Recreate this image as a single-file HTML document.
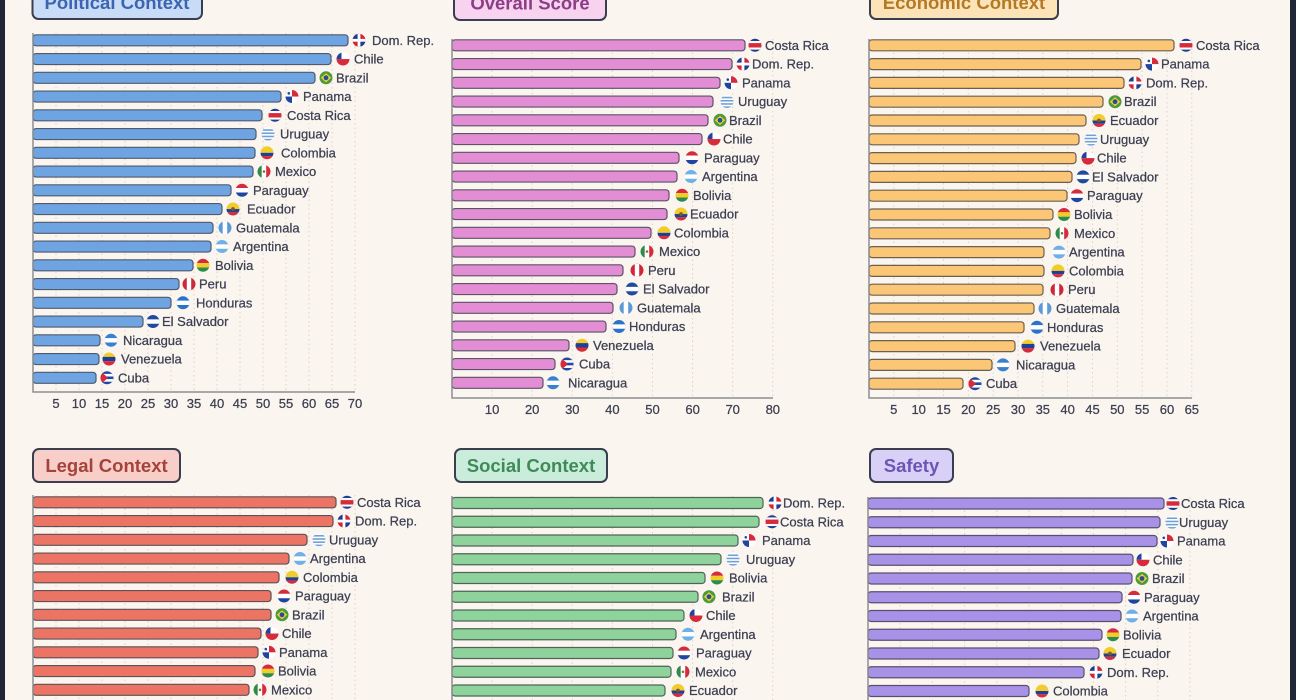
<!DOCTYPE html>
<html><head><meta charset="utf-8">
<style>
html,body{margin:0;padding:0;background:#fbf5ef;}
svg{display:block;}
.l{font:13px "Liberation Sans",sans-serif;fill:#3c3f52;stroke:#3c3f52;stroke-width:0.25;}
.tk{font:13px "Liberation Sans",sans-serif;fill:#3c3f52;stroke:#3c3f52;stroke-width:0.25;text-anchor:middle;}
.ttl{font:bold 18.5px "Liberation Sans",sans-serif;text-anchor:middle;}
.g{stroke:#dcd2c8;stroke-width:1;stroke-dasharray:1.5 3;fill:none;}
.ax{stroke:#8e8e92;stroke-width:1.5;fill:none;}
.b1{fill:#6fa4e2;stroke:#50596e;stroke-width:1.2;}
.b2{fill:#e38dd5;stroke:#5a5466;stroke-width:1.2;}
.b3{fill:#fbc676;stroke:#6a6052;stroke-width:1.2;}
.b4{fill:#ec7465;stroke:#5e5057;stroke-width:1.2;}
.b5{fill:#8fd39c;stroke:#4f6358;stroke-width:1.2;}
.b6{fill:#a892e8;stroke:#55506e;stroke-width:1.2;}
.box{stroke:#3a3e4e;stroke-width:2;}
</style></head>
<body>
<svg width="1296" height="700" viewBox="0 0 1296 700" xmlns="http://www.w3.org/2000/svg">
<defs>
<clipPath id="cc"><circle r="6.5"/></clipPath>
<g id="DO"><g clip-path="url(#cc)"><rect x="-7" y="-7" width="7" height="7" fill="#1e3f8f"/><rect x="0" y="-7" width="7" height="7" fill="#d0263a"/><rect x="-7" y="0" width="7" height="7" fill="#d0263a"/><rect x="0" y="0" width="7" height="7" fill="#1e3f8f"/><rect x="-1.4" y="-7" width="2.8" height="14" fill="#fff"/><rect x="-7" y="-1.4" width="14" height="2.8" fill="#fff"/></g></g>
<g id="CL"><g clip-path="url(#cc)"><rect x="-7" y="-7" width="14" height="7" fill="#fff"/><rect x="-7" y="-7" width="5.5" height="7" fill="#1f45a0"/><rect x="-7" y="0" width="14" height="7" fill="#d52b3a"/></g></g>
<g id="BR"><g clip-path="url(#cc)"><rect x="-7" y="-7" width="14" height="14" fill="#4b9a3c"/><path d="M0,-4.6 L5.2,0 0,4.6 -5.2,0Z" fill="#e8d03a"/><circle r="2.4" fill="#2a4a9a"/></g></g>
<g id="PA"><g clip-path="url(#cc)"><rect x="-7" y="-7" width="14" height="14" fill="#fff"/><rect x="0" y="-7" width="7" height="7" fill="#d52b3a"/><rect x="-7" y="0" width="7" height="7" fill="#1f45a0"/><circle cx="-3.2" cy="-3.2" r="1.3" fill="#1f45a0"/></g></g>
<g id="CR"><g clip-path="url(#cc)"><rect x="-7" y="-7" width="14" height="14" fill="#1f3f8f"/><rect x="-7" y="-4.3" width="14" height="8.6" fill="#fff"/><rect x="-7" y="-2.2" width="14" height="4.4" fill="#d52b3a"/></g></g>
<g id="UY"><g clip-path="url(#cc)"><rect x="-7" y="-7" width="14" height="14" fill="#fff"/><rect x="-7" y="-4.8" width="14" height="1.6" fill="#6fa0d8"/><rect x="-7" y="-1.6" width="14" height="1.6" fill="#6fa0d8"/><rect x="-7" y="1.6" width="14" height="1.6" fill="#6fa0d8"/><rect x="-7" y="4.8" width="14" height="1.6" fill="#6fa0d8"/></g></g>
<g id="CO"><g clip-path="url(#cc)"><rect x="-7" y="-7" width="14" height="7" fill="#f2cc2a"/><rect x="-7" y="0" width="14" height="3.3" fill="#223f95"/><rect x="-7" y="3.3" width="14" height="3.7" fill="#d52b3a"/></g></g>
<g id="EC"><g clip-path="url(#cc)"><rect x="-7" y="-7" width="14" height="7" fill="#f2cc2a"/><rect x="-7" y="0" width="14" height="3.3" fill="#223f95"/><rect x="-7" y="3.3" width="14" height="3.7" fill="#d52b3a"/><circle r="1.9" fill="#7a5a2a"/></g></g>
<g id="MX"><g clip-path="url(#cc)"><rect x="-7" y="-7" width="4.8" height="14" fill="#2e8b4a"/><rect x="-2.2" y="-7" width="4.4" height="14" fill="#fff"/><rect x="2.2" y="-7" width="4.8" height="14" fill="#d52b3a"/><circle r="1.3" fill="#8a6a3a"/></g></g>
<g id="PY"><g clip-path="url(#cc)"><rect x="-7" y="-7" width="14" height="4.8" fill="#d52b3a"/><rect x="-7" y="-2.2" width="14" height="4.4" fill="#fff"/><rect x="-7" y="2.2" width="14" height="4.8" fill="#1f45a0"/></g></g>
<g id="GT"><g clip-path="url(#cc)"><rect x="-7" y="-7" width="4.8" height="14" fill="#5a9ad8"/><rect x="-2.2" y="-7" width="4.4" height="14" fill="#fff"/><rect x="2.2" y="-7" width="4.8" height="14" fill="#5a9ad8"/></g></g>
<g id="AR"><g clip-path="url(#cc)"><rect x="-7" y="-7" width="14" height="14" fill="#6fb0e6"/><rect x="-7" y="-2.2" width="14" height="4.4" fill="#fff"/></g></g>
<g id="BO"><g clip-path="url(#cc)"><rect x="-7" y="-7" width="14" height="4.8" fill="#d52b3a"/><rect x="-7" y="-2.2" width="14" height="4.4" fill="#f2cc2a"/><rect x="-7" y="2.2" width="14" height="4.8" fill="#2e8b4a"/></g></g>
<g id="PE"><g clip-path="url(#cc)"><rect x="-7" y="-7" width="14" height="14" fill="#d0263a"/><rect x="-2.2" y="-7" width="4.4" height="14" fill="#fff"/></g></g>
<g id="HN"><g clip-path="url(#cc)"><rect x="-7" y="-7" width="14" height="14" fill="#2a73c8"/><rect x="-7" y="-2.2" width="14" height="4.4" fill="#fff"/></g></g>
<g id="SV"><g clip-path="url(#cc)"><rect x="-7" y="-7" width="14" height="14" fill="#1f4aa0"/><rect x="-7" y="-2.2" width="14" height="4.4" fill="#fff"/></g></g>
<g id="NI"><g clip-path="url(#cc)"><rect x="-7" y="-7" width="14" height="14" fill="#3a80d0"/><rect x="-7" y="-2.2" width="14" height="4.4" fill="#fff"/></g></g>
<g id="VE"><g clip-path="url(#cc)"><rect x="-7" y="-7" width="14" height="4.8" fill="#f2cc2a"/><rect x="-7" y="-2.2" width="14" height="4.4" fill="#1f3f95"/><rect x="-7" y="2.2" width="14" height="4.8" fill="#d52b3a"/></g></g>
<g id="CU"><g clip-path="url(#cc)"><rect x="-7" y="-7" width="14" height="14" fill="#1f4aa0"/><rect x="-7" y="-3.9" width="14" height="2.6" fill="#fff"/><rect x="-7" y="1.3" width="14" height="2.6" fill="#fff"/><path d="M-7,-7 L1,0 -7,7Z" fill="#d52b3a"/></g></g>
</defs>

<rect x="0" y="0" width="1296" height="700" fill="#fbf5ef"/>
<rect x="0" y="0" width="5" height="700" fill="#1f2637"/>
<rect x="1290" y="0" width="6" height="700" fill="#1f2637"/>

<!-- ============ POLITICAL ============ -->
<path class="g" d="M56 33V392M79 33V392M102 33V392M125 33V392M148 33V392M171 33V392M194 33V392M217 33V392M240 33V392M263 33V392M286 33V392M309 33V392M332 33V392M355 33V392"/>
<g>
<g transform="translate(0,40.3)"><rect class="b1" x="33" y="-5.5" width="315" height="11" rx="3"/><use href="#DO" x="359"/><text class="l" x="372" y="4.5">Dom. Rep.</text></g>
<g transform="translate(0,59.05)"><rect class="b1" x="33" y="-5.5" width="298" height="11" rx="3"/><use href="#CL" x="343"/><text class="l" x="354" y="4.5">Chile</text></g>
<g transform="translate(0,77.8)"><rect class="b1" x="33" y="-5.5" width="282" height="11" rx="3"/><use href="#BR" x="326"/><text class="l" x="336" y="4.5">Brazil</text></g>
<g transform="translate(0,96.55)"><rect class="b1" x="33" y="-5.5" width="248" height="11" rx="3"/><use href="#PA" x="292"/><text class="l" x="303" y="4.5">Panama</text></g>
<g transform="translate(0,115.3)"><rect class="b1" x="33" y="-5.5" width="229" height="11" rx="3"/><use href="#CR" x="275"/><text class="l" x="287" y="4.5">Costa Rica</text></g>
<g transform="translate(0,134.05)"><rect class="b1" x="33" y="-5.5" width="223" height="11" rx="3"/><use href="#UY" x="268"/><text class="l" x="280" y="4.5">Uruguay</text></g>
<g transform="translate(0,152.8)"><rect class="b1" x="33" y="-5.5" width="222" height="11" rx="3"/><use href="#CO" x="267"/><text class="l" x="281" y="4.5">Colombia</text></g>
<g transform="translate(0,171.55)"><rect class="b1" x="33" y="-5.5" width="220" height="11" rx="3"/><use href="#MX" x="264"/><text class="l" x="275" y="4.5">Mexico</text></g>
<g transform="translate(0,190.3)"><rect class="b1" x="33" y="-5.5" width="198" height="11" rx="3"/><use href="#PY" x="242"/><text class="l" x="253" y="4.5">Paraguay</text></g>
<g transform="translate(0,209.05)"><rect class="b1" x="33" y="-5.5" width="189" height="11" rx="3"/><use href="#EC" x="233"/><text class="l" x="247" y="4.5">Ecuador</text></g>
<g transform="translate(0,227.8)"><rect class="b1" x="33" y="-5.5" width="180" height="11" rx="3"/><use href="#GT" x="225"/><text class="l" x="236" y="4.5">Guatemala</text></g>
<g transform="translate(0,246.55)"><rect class="b1" x="33" y="-5.5" width="178" height="11" rx="3"/><use href="#AR" x="222"/><text class="l" x="233" y="4.5">Argentina</text></g>
<g transform="translate(0,265.3)"><rect class="b1" x="33" y="-5.5" width="160" height="11" rx="3"/><use href="#BO" x="203"/><text class="l" x="215" y="4.5">Bolivia</text></g>
<g transform="translate(0,284.05)"><rect class="b1" x="33" y="-5.5" width="146" height="11" rx="3"/><use href="#PE" x="189"/><text class="l" x="199" y="4.5">Peru</text></g>
<g transform="translate(0,302.8)"><rect class="b1" x="33" y="-5.5" width="138" height="11" rx="3"/><use href="#HN" x="183"/><text class="l" x="196" y="4.5">Honduras</text></g>
<g transform="translate(0,321.55)"><rect class="b1" x="33" y="-5.5" width="110" height="11" rx="3"/><use href="#SV" x="153"/><text class="l" x="162" y="4.5">El Salvador</text></g>
<g transform="translate(0,340.3)"><rect class="b1" x="33" y="-5.5" width="67" height="11" rx="3"/><use href="#NI" x="111"/><text class="l" x="123" y="4.5">Nicaragua</text></g>
<g transform="translate(0,359.05)"><rect class="b1" x="33" y="-5.5" width="66" height="11" rx="3"/><use href="#VE" x="109"/><text class="l" x="121" y="4.5">Venezuela</text></g>
<g transform="translate(0,377.8)"><rect class="b1" x="33" y="-5.5" width="63" height="11" rx="3"/><use href="#CU" x="107"/><text class="l" x="118" y="4.5">Cuba</text></g>
</g>
<path class="ax" d="M33 33V392H355"/>
<g>
<text class="tk" x="56" y="408">5</text><text class="tk" x="79" y="408">10</text><text class="tk" x="102" y="408">15</text><text class="tk" x="125" y="408">20</text><text class="tk" x="148" y="408">25</text><text class="tk" x="171" y="408">30</text><text class="tk" x="194" y="408">35</text><text class="tk" x="217" y="408">40</text><text class="tk" x="240" y="408">45</text><text class="tk" x="263" y="408">50</text><text class="tk" x="286" y="408">55</text><text class="tk" x="309" y="408">60</text><text class="tk" x="332" y="408">65</text><text class="tk" x="355" y="408">70</text>
</g>
<rect class="box" x="32.5" y="-14" width="169.5" height="33" rx="6" fill="#c8dcf7"/>
<text class="ttl" x="117" y="9" fill="#3d64b0">Political Context</text>

<!-- ============ OVERALL ============ -->
<path class="g" d="M492.1 39V398M532.2 39V398M572.3 39V398M612.4 39V398M652.5 39V398M692.6 39V398M732.7 39V398M772.8 39V398"/>
<g>
<g transform="translate(0,45.3)"><rect class="b2" x="452" y="-5.5" width="293" height="11" rx="3"/><use href="#CR" x="755"/><text class="l" x="765" y="4.5">Costa Rica</text></g>
<g transform="translate(0,64.05)"><rect class="b2" x="452" y="-5.5" width="280" height="11" rx="3"/><use href="#DO" x="743"/><text class="l" x="752" y="4.5">Dom. Rep.</text></g>
<g transform="translate(0,82.8)"><rect class="b2" x="452" y="-5.5" width="268" height="11" rx="3"/><use href="#PA" x="731"/><text class="l" x="742" y="4.5">Panama</text></g>
<g transform="translate(0,101.55)"><rect class="b2" x="452" y="-5.5" width="261" height="11" rx="3"/><use href="#UY" x="727"/><text class="l" x="738" y="4.5">Uruguay</text></g>
<g transform="translate(0,120.3)"><rect class="b2" x="452" y="-5.5" width="256" height="11" rx="3"/><use href="#BR" x="720"/><text class="l" x="729" y="4.5">Brazil</text></g>
<g transform="translate(0,139.05)"><rect class="b2" x="452" y="-5.5" width="250" height="11" rx="3"/><use href="#CL" x="714"/><text class="l" x="723" y="4.5">Chile</text></g>
<g transform="translate(0,157.8)"><rect class="b2" x="452" y="-5.5" width="227" height="11" rx="3"/><use href="#PY" x="692"/><text class="l" x="704" y="4.5">Paraguay</text></g>
<g transform="translate(0,176.55)"><rect class="b2" x="452" y="-5.5" width="225" height="11" rx="3"/><use href="#AR" x="691"/><text class="l" x="702" y="4.5">Argentina</text></g>
<g transform="translate(0,195.3)"><rect class="b2" x="452" y="-5.5" width="217" height="11" rx="3"/><use href="#BO" x="682"/><text class="l" x="693" y="4.5">Bolivia</text></g>
<g transform="translate(0,214.05)"><rect class="b2" x="452" y="-5.5" width="215" height="11" rx="3"/><use href="#EC" x="681"/><text class="l" x="690" y="4.5">Ecuador</text></g>
<g transform="translate(0,232.8)"><rect class="b2" x="452" y="-5.5" width="199" height="11" rx="3"/><use href="#CO" x="664"/><text class="l" x="674" y="4.5">Colombia</text></g>
<g transform="translate(0,251.55)"><rect class="b2" x="452" y="-5.5" width="183" height="11" rx="3"/><use href="#MX" x="647"/><text class="l" x="659" y="4.5">Mexico</text></g>
<g transform="translate(0,270.3)"><rect class="b2" x="452" y="-5.5" width="171" height="11" rx="3"/><use href="#PE" x="637"/><text class="l" x="648" y="4.5">Peru</text></g>
<g transform="translate(0,289.05)"><rect class="b2" x="452" y="-5.5" width="165" height="11" rx="3"/><use href="#SV" x="632"/><text class="l" x="643" y="4.5">El Salvador</text></g>
<g transform="translate(0,307.8)"><rect class="b2" x="452" y="-5.5" width="161" height="11" rx="3"/><use href="#GT" x="626"/><text class="l" x="637" y="4.5">Guatemala</text></g>
<g transform="translate(0,326.55)"><rect class="b2" x="452" y="-5.5" width="154" height="11" rx="3"/><use href="#HN" x="619"/><text class="l" x="629" y="4.5">Honduras</text></g>
<g transform="translate(0,345.3)"><rect class="b2" x="452" y="-5.5" width="117" height="11" rx="3"/><use href="#VE" x="582"/><text class="l" x="593" y="4.5">Venezuela</text></g>
<g transform="translate(0,364.05)"><rect class="b2" x="452" y="-5.5" width="103" height="11" rx="3"/><use href="#CU" x="567"/><text class="l" x="579" y="4.5">Cuba</text></g>
<g transform="translate(0,382.8)"><rect class="b2" x="452" y="-5.5" width="91" height="11" rx="3"/><use href="#NI" x="553"/><text class="l" x="568" y="4.5">Nicaragua</text></g>
</g>
<path class="ax" d="M452 39V398H773"/>
<g>
<text class="tk" x="492.1" y="414">10</text><text class="tk" x="532.2" y="414">20</text><text class="tk" x="572.3" y="414">30</text><text class="tk" x="612.4" y="414">40</text><text class="tk" x="652.5" y="414">50</text><text class="tk" x="692.6" y="414">60</text><text class="tk" x="732.7" y="414">70</text><text class="tk" x="772.8" y="414">80</text>
</g>
<rect class="box" x="454" y="-14" width="152" height="34" rx="6" fill="#f7d3f0"/>
<text class="ttl" x="530" y="9.5" fill="#8c3d86">Overall Score</text>

<!-- ============ ECONOMIC ============ -->
<path class="g" d="M893.8 39V398M918.7 39V398M943.5 39V398M968.3 39V398M993.2 39V398M1018 39V398M1042.8 39V398M1067.6 39V398M1092.5 39V398M1117.3 39V398M1142.1 39V398M1167 39V398M1191.8 39V398"/>
<g>
<g transform="translate(0,45.3)"><rect class="b3" x="869" y="-5.5" width="305" height="11" rx="3"/><use href="#CR" x="1186"/><text class="l" x="1196" y="4.5">Costa Rica</text></g>
<g transform="translate(0,64.1)"><rect class="b3" x="869" y="-5.5" width="272" height="11" rx="3"/><use href="#PA" x="1152"/><text class="l" x="1161" y="4.5">Panama</text></g>
<g transform="translate(0,82.9)"><rect class="b3" x="869" y="-5.5" width="255" height="11" rx="3"/><use href="#DO" x="1135"/><text class="l" x="1146" y="4.5">Dom. Rep.</text></g>
<g transform="translate(0,101.7)"><rect class="b3" x="869" y="-5.5" width="234" height="11" rx="3"/><use href="#BR" x="1115"/><text class="l" x="1124" y="4.5">Brazil</text></g>
<g transform="translate(0,120.5)"><rect class="b3" x="869" y="-5.5" width="217" height="11" rx="3"/><use href="#EC" x="1099"/><text class="l" x="1110" y="4.5">Ecuador</text></g>
<g transform="translate(0,139.3)"><rect class="b3" x="869" y="-5.5" width="210" height="11" rx="3"/><use href="#UY" x="1091"/><text class="l" x="1100" y="4.5">Uruguay</text></g>
<g transform="translate(0,158.1)"><rect class="b3" x="869" y="-5.5" width="207" height="11" rx="3"/><use href="#CL" x="1088"/><text class="l" x="1097" y="4.5">Chile</text></g>
<g transform="translate(0,176.9)"><rect class="b3" x="869" y="-5.5" width="203" height="11" rx="3"/><use href="#SV" x="1083"/><text class="l" x="1092" y="4.5">El Salvador</text></g>
<g transform="translate(0,195.7)"><rect class="b3" x="869" y="-5.5" width="198" height="11" rx="3"/><use href="#PY" x="1077"/><text class="l" x="1087" y="4.5">Paraguay</text></g>
<g transform="translate(0,214.5)"><rect class="b3" x="869" y="-5.5" width="184" height="11" rx="3"/><use href="#BO" x="1064"/><text class="l" x="1074" y="4.5">Bolivia</text></g>
<g transform="translate(0,233.3)"><rect class="b3" x="869" y="-5.5" width="181" height="11" rx="3"/><use href="#MX" x="1062"/><text class="l" x="1074" y="4.5">Mexico</text></g>
<g transform="translate(0,252.1)"><rect class="b3" x="869" y="-5.5" width="175" height="11" rx="3"/><use href="#AR" x="1059"/><text class="l" x="1069" y="4.5">Argentina</text></g>
<g transform="translate(0,270.9)"><rect class="b3" x="869" y="-5.5" width="175" height="11" rx="3"/><use href="#CO" x="1058"/><text class="l" x="1069" y="4.5">Colombia</text></g>
<g transform="translate(0,289.7)"><rect class="b3" x="869" y="-5.5" width="174" height="11" rx="3"/><use href="#PE" x="1057"/><text class="l" x="1068" y="4.5">Peru</text></g>
<g transform="translate(0,308.5)"><rect class="b3" x="869" y="-5.5" width="165" height="11" rx="3"/><use href="#GT" x="1045"/><text class="l" x="1056" y="4.5">Guatemala</text></g>
<g transform="translate(0,327.3)"><rect class="b3" x="869" y="-5.5" width="155" height="11" rx="3"/><use href="#HN" x="1037"/><text class="l" x="1047" y="4.5">Honduras</text></g>
<g transform="translate(0,346.1)"><rect class="b3" x="869" y="-5.5" width="146" height="11" rx="3"/><use href="#VE" x="1028"/><text class="l" x="1040" y="4.5">Venezuela</text></g>
<g transform="translate(0,364.9)"><rect class="b3" x="869" y="-5.5" width="123" height="11" rx="3"/><use href="#NI" x="1003"/><text class="l" x="1016" y="4.5">Nicaragua</text></g>
<g transform="translate(0,383.7)"><rect class="b3" x="869" y="-5.5" width="94" height="11" rx="3"/><use href="#CU" x="975"/><text class="l" x="986" y="4.5">Cuba</text></g>
</g>
<path class="ax" d="M869 39V398H1192"/>
<g>
<text class="tk" x="893.8" y="414">5</text><text class="tk" x="918.7" y="414">10</text><text class="tk" x="943.5" y="414">15</text><text class="tk" x="968.3" y="414">20</text><text class="tk" x="993.2" y="414">25</text><text class="tk" x="1018" y="414">30</text><text class="tk" x="1042.8" y="414">35</text><text class="tk" x="1067.6" y="414">40</text><text class="tk" x="1092.5" y="414">45</text><text class="tk" x="1117.3" y="414">50</text><text class="tk" x="1142.1" y="414">55</text><text class="tk" x="1167" y="414">60</text><text class="tk" x="1191.8" y="414">65</text>
</g>
<rect class="box" x="870" y="-14" width="188" height="33" rx="6" fill="#fde3b8"/>
<text class="ttl" x="964" y="9" fill="#b27a24">Economic Context</text>

<!-- ============ LEGAL ============ -->
<path class="g" d="M56 495V700M79 495V700M102 495V700M125 495V700M148 495V700M171 495V700M194 495V700M217 495V700M240 495V700M263 495V700M286 495V700M309 495V700M332 495V700M355 495V700"/>
<g>
<g transform="translate(0,502.3)"><rect class="b4" x="33" y="-5.5" width="303" height="11" rx="3"/><use href="#CR" x="347"/><text class="l" x="357" y="4.5">Costa Rica</text></g>
<g transform="translate(0,521.05)"><rect class="b4" x="33" y="-5.5" width="300" height="11" rx="3"/><use href="#DO" x="344"/><text class="l" x="355" y="4.5">Dom. Rep.</text></g>
<g transform="translate(0,539.8)"><rect class="b4" x="33" y="-5.5" width="274" height="11" rx="3"/><use href="#UY" x="319"/><text class="l" x="329" y="4.5">Uruguay</text></g>
<g transform="translate(0,558.55)"><rect class="b4" x="33" y="-5.5" width="256" height="11" rx="3"/><use href="#AR" x="300"/><text class="l" x="310" y="4.5">Argentina</text></g>
<g transform="translate(0,577.3)"><rect class="b4" x="33" y="-5.5" width="246" height="11" rx="3"/><use href="#CO" x="292"/><text class="l" x="303" y="4.5">Colombia</text></g>
<g transform="translate(0,596.05)"><rect class="b4" x="33" y="-5.5" width="238" height="11" rx="3"/><use href="#PY" x="284"/><text class="l" x="295" y="4.5">Paraguay</text></g>
<g transform="translate(0,614.8)"><rect class="b4" x="33" y="-5.5" width="238" height="11" rx="3"/><use href="#BR" x="282"/><text class="l" x="292" y="4.5">Brazil</text></g>
<g transform="translate(0,633.55)"><rect class="b4" x="33" y="-5.5" width="228" height="11" rx="3"/><use href="#CL" x="272"/><text class="l" x="282" y="4.5">Chile</text></g>
<g transform="translate(0,652.3)"><rect class="b4" x="33" y="-5.5" width="225" height="11" rx="3"/><use href="#PA" x="269"/><text class="l" x="279" y="4.5">Panama</text></g>
<g transform="translate(0,671.05)"><rect class="b4" x="33" y="-5.5" width="222" height="11" rx="3"/><use href="#BO" x="268"/><text class="l" x="278" y="4.5">Bolivia</text></g>
<g transform="translate(0,689.8)"><rect class="b4" x="33" y="-5.5" width="216" height="11" rx="3"/><use href="#MX" x="260"/><text class="l" x="271" y="4.5">Mexico</text></g>
</g>
<path class="ax" d="M33 495V700"/>
<rect class="box" x="33" y="449" width="147" height="33" rx="6" fill="#f8cfc8"/>
<text class="ttl" x="106.5" y="472" fill="#a5423a">Legal Context</text>

<!-- ============ SOCIAL ============ -->
<path class="g" d="M492.1 496V700M532.2 496V700M572.3 496V700M612.4 496V700M652.5 496V700M692.6 496V700M732.7 496V700M772.8 496V700"/>
<g>
<g transform="translate(0,503)"><rect class="b5" x="452" y="-5.5" width="311" height="11" rx="3"/><use href="#DO" x="775"/><text class="l" x="783" y="4.5">Dom. Rep.</text></g>
<g transform="translate(0,521.75)"><rect class="b5" x="452" y="-5.5" width="307" height="11" rx="3"/><use href="#CR" x="772"/><text class="l" x="780" y="4.5">Costa Rica</text></g>
<g transform="translate(0,540.5)"><rect class="b5" x="452" y="-5.5" width="286" height="11" rx="3"/><use href="#PA" x="749"/><text class="l" x="762" y="4.5">Panama</text></g>
<g transform="translate(0,559.25)"><rect class="b5" x="452" y="-5.5" width="269" height="11" rx="3"/><use href="#UY" x="733"/><text class="l" x="746" y="4.5">Uruguay</text></g>
<g transform="translate(0,578)"><rect class="b5" x="452" y="-5.5" width="253" height="11" rx="3"/><use href="#BO" x="717"/><text class="l" x="729" y="4.5">Bolivia</text></g>
<g transform="translate(0,596.75)"><rect class="b5" x="452" y="-5.5" width="246" height="11" rx="3"/><use href="#BR" x="709"/><text class="l" x="722" y="4.5">Brazil</text></g>
<g transform="translate(0,615.5)"><rect class="b5" x="452" y="-5.5" width="232" height="11" rx="3"/><use href="#CL" x="696"/><text class="l" x="706" y="4.5">Chile</text></g>
<g transform="translate(0,634.25)"><rect class="b5" x="452" y="-5.5" width="224" height="11" rx="3"/><use href="#AR" x="688"/><text class="l" x="700" y="4.5">Argentina</text></g>
<g transform="translate(0,653)"><rect class="b5" x="452" y="-5.5" width="221" height="11" rx="3"/><use href="#PY" x="684"/><text class="l" x="696" y="4.5">Paraguay</text></g>
<g transform="translate(0,671.75)"><rect class="b5" x="452" y="-5.5" width="219" height="11" rx="3"/><use href="#MX" x="683"/><text class="l" x="695" y="4.5">Mexico</text></g>
<g transform="translate(0,690.5)"><rect class="b5" x="452" y="-5.5" width="213" height="11" rx="3"/><use href="#EC" x="678"/><text class="l" x="689" y="4.5">Ecuador</text></g>
</g>
<path class="ax" d="M452 496V700"/>
<rect class="box" x="455" y="449" width="152" height="33" rx="6" fill="#c9ecdb"/>
<text class="ttl" x="531" y="472" fill="#3f8a58">Social Context</text>

<!-- ============ SAFETY ============ -->
<path class="g" d="M900.2 497V700M932.4 497V700M964.6 497V700M996.8 497V700M1029 497V700M1061.2 497V700M1093.4 497V700M1125.6 497V700M1157.8 497V700M1190 497V700"/>
<g>
<g transform="translate(0,503.5)"><rect class="b6" x="868" y="-5.5" width="296" height="11" rx="3"/><use href="#CR" x="1173"/><text class="l" x="1181" y="4.5">Costa Rica</text></g>
<g transform="translate(0,522.25)"><rect class="b6" x="868" y="-5.5" width="292" height="11" rx="3"/><use href="#UY" x="1172"/><text class="l" x="1179" y="4.5">Uruguay</text></g>
<g transform="translate(0,541)"><rect class="b6" x="868" y="-5.5" width="289" height="11" rx="3"/><use href="#PA" x="1167"/><text class="l" x="1177" y="4.5">Panama</text></g>
<g transform="translate(0,559.75)"><rect class="b6" x="868" y="-5.5" width="265" height="11" rx="3"/><use href="#CL" x="1143"/><text class="l" x="1153" y="4.5">Chile</text></g>
<g transform="translate(0,578.5)"><rect class="b6" x="868" y="-5.5" width="264" height="11" rx="3"/><use href="#BR" x="1142"/><text class="l" x="1152" y="4.5">Brazil</text></g>
<g transform="translate(0,597.25)"><rect class="b6" x="868" y="-5.5" width="254" height="11" rx="3"/><use href="#PY" x="1134"/><text class="l" x="1144" y="4.5">Paraguay</text></g>
<g transform="translate(0,616)"><rect class="b6" x="868" y="-5.5" width="253" height="11" rx="3"/><use href="#AR" x="1132"/><text class="l" x="1143" y="4.5">Argentina</text></g>
<g transform="translate(0,634.75)"><rect class="b6" x="868" y="-5.5" width="234" height="11" rx="3"/><use href="#BO" x="1113"/><text class="l" x="1123" y="4.5">Bolivia</text></g>
<g transform="translate(0,653.5)"><rect class="b6" x="868" y="-5.5" width="231" height="11" rx="3"/><use href="#EC" x="1110"/><text class="l" x="1122" y="4.5">Ecuador</text></g>
<g transform="translate(0,672.25)"><rect class="b6" x="868" y="-5.5" width="216" height="11" rx="3"/><use href="#DO" x="1096"/><text class="l" x="1107" y="4.5">Dom. Rep.</text></g>
<g transform="translate(0,691)"><rect class="b6" x="868" y="-5.5" width="161" height="11" rx="3"/><use href="#CO" x="1042"/><text class="l" x="1053" y="4.5">Colombia</text></g>
</g>
<path class="ax" d="M868 497V700"/>
<rect class="box" x="870" y="449" width="83" height="33" rx="6" fill="#d9d0f7"/>
<text class="ttl" x="911.5" y="472" fill="#6b55b5">Safety</text>
</svg>
</body></html>
